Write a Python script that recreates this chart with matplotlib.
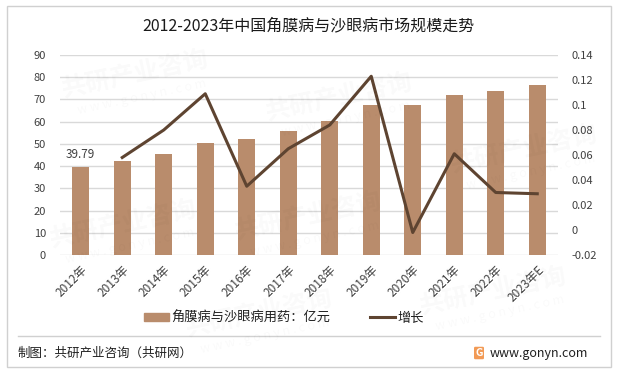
import matplotlib.pyplot as plt
import numpy as np
from matplotlib.patches import Rectangle
from matplotlib.lines import Line2D

plt.rcParams['font.family'] = ['Noto Sans CJK SC', 'DejaVu Sans']

years = ['2012年', '2013年', '2014年', '2015年', '2016年', '2017年',
         '2018年', '2019年', '2020年', '2021年', '2022年', '2023年E']
market = [39.79, 42.1, 45.3, 50.5, 52.3, 55.6, 60.2, 67.7, 67.6, 71.8, 74.0, 76.3]
growth = [None, 0.058, 0.080, 0.109, 0.035, 0.065, 0.084, 0.123, -0.002, 0.061, 0.030, 0.029]

bar_color = '#B98C6C'
line_color = '#5E4431'
grid_color = '#D9D9D9'
text_color = '#404040'

fig = plt.figure(figsize=(6.17, 3.73), dpi=100)

# outer frame
fig.patches.append(Rectangle((7 / 617, 1 - 367 / 373), 604 / 617, 361 / 373,
                             transform=fig.transFigure, fill=False,
                             edgecolor='#D0D0D0', linewidth=1))

# faint watermarks, kept inside the frame
for wx, wy in [(0.22, 0.80), (0.55, 0.74), (0.85, 0.60), (0.20, 0.40),
               (0.50, 0.42), (0.80, 0.22), (0.42, 0.16)]:
    fig.text(wx, wy, '共研产业咨询', fontsize=18, fontweight='bold', color='#000000',
             alpha=0.025, rotation=12, ha='center', va='center')
    fig.text(wx + 0.01, wy - 0.06, 'w w w . g o n y n . c o m', fontsize=9,
             color='#000000', alpha=0.025, rotation=12, ha='center', va='center')

ax = fig.add_axes([60 / 617, 1 - 255 / 373, 498 / 617, 200 / 373])
x = np.arange(len(years))
ax.bar(x, market, width=0.41, color=bar_color, zorder=2)
ax.set_ylim(0, 90)
ax.set_yticks(np.arange(0, 91, 10))
ax.set_xlim(-0.5, len(years) - 0.5)
ax.grid(axis='y', color=grid_color, linewidth=1, zorder=0)
ax.set_axisbelow(True)
for s in ax.spines.values():
    s.set_visible(False)
ax.tick_params(axis='y', length=0, labelsize=8, labelcolor=text_color, pad=10)
ax.tick_params(axis='x', length=0, labelsize=8.5, labelcolor=text_color, pad=6)
ax.set_xticks(x)
ax.set_xticklabels(years, rotation=45, ha='right', rotation_mode='anchor')
ax.text(x[0], market[0] + 2.5, '39.79', ha='center', va='bottom',
        fontsize=8.5, color=text_color)

ax2 = ax.twinx()
gx = [i for i, g in enumerate(growth) if g is not None]
gy = [g for g in growth if g is not None]
ax2.plot(gx, gy, color=line_color, linewidth=2.2, zorder=3)
ax2.set_ylim(-0.02, 0.14)
ax2.set_yticks([-0.02, 0, 0.02, 0.04, 0.06, 0.08, 0.1, 0.12, 0.14])
ax2.set_yticklabels(['-0.02', '0', '0.02', '0.04', '0.06', '0.08', '0.1', '0.12', '0.14'])
for s in ax2.spines.values():
    s.set_visible(False)
ax2.tick_params(axis='y', length=0, labelsize=8, labelcolor=text_color, pad=10)

fig.text(0.5, 1 - 26 / 373, '2012-2023年中国角膜病与沙眼病市场规模走势',
         ha='center', va='center', fontsize=11.5, color='#1a1a1a')

handles = [Rectangle((0, 0), 1, 1, color=bar_color),
           Line2D([0], [0], color=line_color, linewidth=2.2)]
fig.legend(handles, ['角膜病与沙眼病用药：亿元', '增长'], loc='center',
           bbox_to_anchor=(284 / 617, 1 - 318 / 373), ncol=2, frameon=False,
           fontsize=9.5, handlelength=1.9, handleheight=0.5, columnspacing=3.0,
           handletextpad=0.2, labelcolor='#202020')

# footer
fig.add_artist(Line2D([18 / 617, 600 / 617], [1 - 336 / 373, 1 - 336 / 373],
                      transform=fig.transFigure, color='#D0D0D0', linewidth=1))
fig.text(18 / 617, 1 - 353 / 373, '制图：共研产业咨询（共研网）', ha='left',
         va='center', fontsize=9, color='#202020')
fig.text(490 / 617, 1 - 353 / 373, 'www.gonyn.com', ha='left', va='center',
         fontsize=9, color='#202020')
fig.text(479 / 617, 1 - 353 / 373, 'G', ha='center', va='center', fontsize=7.5,
         fontweight='bold', color='white',
         bbox=dict(boxstyle='round,pad=0.12', facecolor='#F29A55', edgecolor='none'))

fig.savefig('out.png', dpi=100)
